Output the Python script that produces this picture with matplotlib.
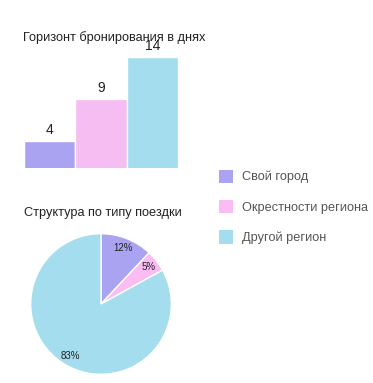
import matplotlib
matplotlib.use("Agg")
from matplotlib import pyplot
from matplotlib.patches import Patch

pyplot.rcParams['font.family'] = ['Liberation Sans', 'DejaVu Sans']

# data
categories = ["Свой город", "Окрестности региона", "Другой регион"]
horizon_days = [4, 9, 14]
trip_share = [12, 5, 83]
colors = ["#a9a3f2", "#f5bdf1", "#a4dded"]
pie_colors = ["#a9a3f2", "#fbbcf3", "#a4dded"]

W, H = 373, 383
fig = pyplot.figure(figsize=(W / 100, H / 100), dpi=100)

"""
Bar chart: booking horizon
"""
ax = fig.add_axes([24 / W, (H - 168) / H, 154 / W, 111 / H])
x = range(len(horizon_days))
ax.bar(x, horizon_days, width=1.0, color=colors, edgecolor="white", linewidth=1.0)
for i, v in enumerate(horizon_days):
    ax.annotate(str(v), xy=(i, v), xytext=(0, 3), textcoords="offset points",
                ha="center", va="bottom", fontsize=10, color="#222222")
ax.set_xlim(-0.5, 2.5)
ax.set_ylim(0.8, 14.0)
ax.axis("off")
fig.text(23 / W, 1 - 38 / H, "Горизонт бронирования в днях", fontsize=9.2,
         color="#222222", ha="left", va="center")

"""
Pie chart: trip type structure
"""
pax = fig.add_axes([30 / W, 8 / H, 142 / W, 142 / H])
wedges, texts, autotexts = pax.pie(trip_share, colors=pie_colors, startangle=90, counterclock=False,
                                   autopct="%d%%", pctdistance=0.86,
                                   wedgeprops=dict(edgecolor="white", linewidth=1.0),
                                   textprops=dict(fontsize=7, color="#222222"))
pax.set_xlim(-1.01, 1.01)
pax.set_ylim(-1.01, 1.01)
pax.set_aspect("equal")
fig.text(24 / W, 1 - 213 / H, "Структура по типу поездки", fontsize=9.2,
         color="#222222", ha="left", va="center")

"""
Legend
"""
handles = [Patch(facecolor=c, edgecolor="none") for c in pie_colors]
fig.legend(handles, categories, loc="upper left", bbox_to_anchor=(207 / W, 1 - 158 / H),
           frameon=False, fontsize=9.2, labelcolor="#555555", handlelength=1.1, handleheight=1.2,
           labelspacing=1.3, handletextpad=0.75)

fig.savefig("out.png", dpi=100)
